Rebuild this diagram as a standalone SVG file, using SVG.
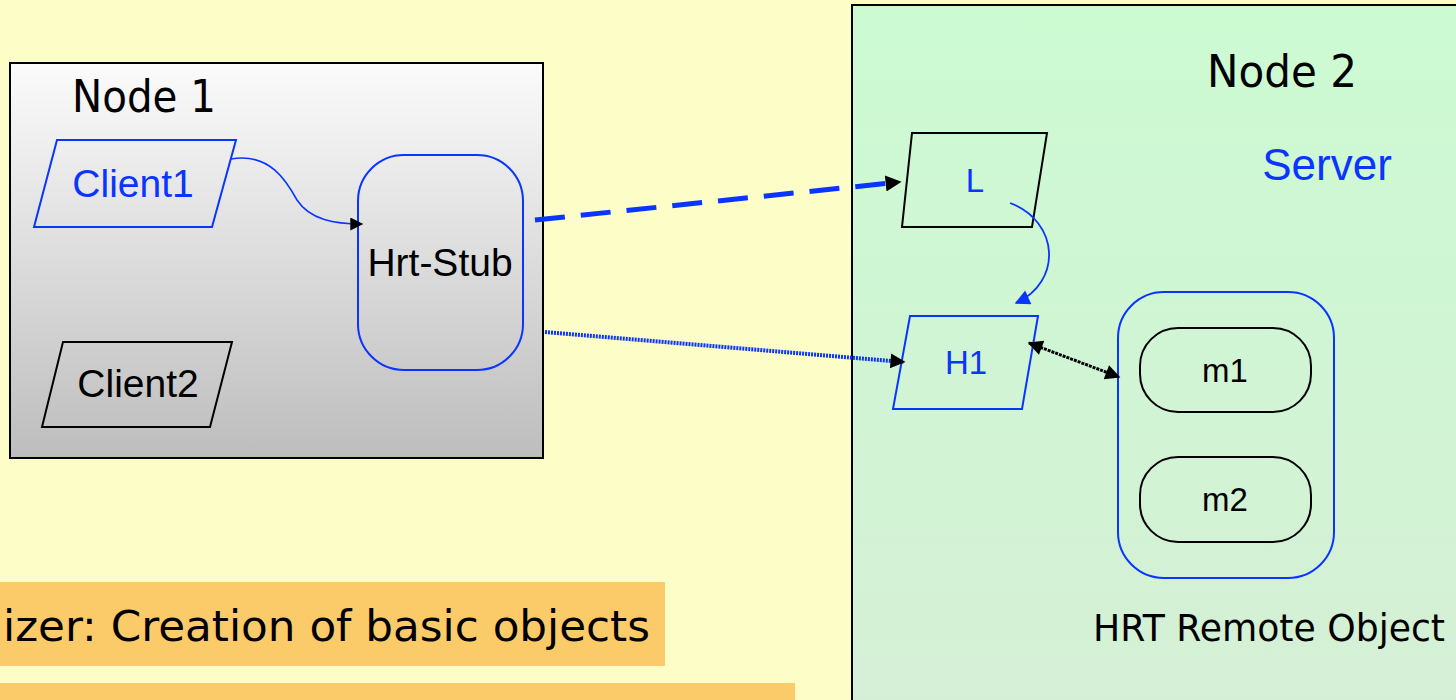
<svg xmlns="http://www.w3.org/2000/svg" width="1456" height="700" viewBox="0 0 1456 700">
<style>
.lbl{font-family:"Liberation Sans",Arial,sans-serif;font-size:39px;text-anchor:middle}
.sm{font-size:33px}
.blue{fill:#0a35ff}
.blk{fill:#000}
.hand{font-family:"DejaVu Sans",sans-serif;font-size:42px;fill:#000}
.bshape{fill:none;stroke:#0a35ff;stroke-width:2}
.kshape{fill:none;stroke:#000;stroke-width:2}
</style>
<defs>
<linearGradient id="g1" x1="0" y1="0" x2="0" y2="1"><stop offset="0" stop-color="#fbfbfb"/><stop offset="1" stop-color="#bdbdbd"/></linearGradient>
<linearGradient id="g2" x1="0" y1="0" x2="0" y2="1"><stop offset="0" stop-color="#ccfbd2"/><stop offset="1" stop-color="#d5efd6"/></linearGradient>
<marker id="ak" viewBox="0 0 10 10" refX="9" refY="5" markerWidth="18" markerHeight="13" markerUnits="userSpaceOnUse" orient="auto"><path d="M0,0 L10,5 L0,10 z" fill="#000"/></marker>
<marker id="akL" viewBox="0 0 10 10" refX="9" refY="5" markerWidth="22" markerHeight="16" markerUnits="userSpaceOnUse" orient="auto"><path d="M0,0 L10,5 L0,10 z" fill="#000"/></marker>
<marker id="akS" viewBox="0 0 10 10" refX="9" refY="5" markerWidth="22" markerHeight="15" markerUnits="userSpaceOnUse" orient="auto"><path d="M0,0 L10,5 L0,10 z" fill="#000"/></marker>
<marker id="akS2" viewBox="0 0 10 10" refX="9" refY="5" markerWidth="22" markerHeight="15" markerUnits="userSpaceOnUse" orient="auto-start-reverse"><path d="M0,0 L10,5 L0,10 z" fill="#000"/></marker>
<marker id="ab" viewBox="0 0 10 10" refX="9" refY="5" markerWidth="20" markerHeight="15" markerUnits="userSpaceOnUse" orient="auto"><path d="M0,0 L10,5 L0,10 z" fill="#0a35ff"/></marker>
</defs>
<rect x="0" y="0" width="1456" height="700" fill="#fdfdc8"/>

<g id="banner1">
<rect x="0" y="582" width="665" height="84" fill="#fbcb6a"/>
<text class="hand" x="3" y="641" textLength="647" lengthAdjust="spacingAndGlyphs">izer: Creation of basic objects</text>
</g>
<g id="banner2"><rect x="0" y="683" width="795" height="20" fill="#fbcb6a"/></g>

<g id="node1">
<rect x="10" y="63" width="533" height="395" fill="url(#g1)" stroke="#000" stroke-width="2"/>
<text class="hand" x="72" y="112" style="font-size:44px" textLength="144" lengthAdjust="spacingAndGlyphs">Node 1</text>
</g>
<g id="client1">
<polygon class="bshape" points="57,140 236,140 212,227 34,227"/>
<text class="lbl blue" x="133" y="197">Client1</text>
</g>
<g id="client2">
<polygon class="kshape" points="63,342 232,342 210,427 42,427"/>
<text class="lbl blk" x="138" y="397">Client2</text>
</g>
<g id="hrtstub">
<rect class="bshape" x="358" y="155" width="165" height="215" rx="46"/>
<text class="lbl blk" x="440" y="276">Hrt-Stub</text>
</g>

<g id="node2">
<rect x="852" y="5" width="620" height="710" fill="url(#g2)" stroke="#000" stroke-width="2"/>
<text class="hand" x="1207" y="87" style="font-size:44px" textLength="150" lengthAdjust="spacingAndGlyphs">Node 2</text>
<text class="lbl blue" x="1327" y="180" style="font-size:44px">Server</text>
</g>
<g id="L">
<polygon class="kshape" points="912,133 1047,133 1032,227 902,227"/>
<text class="lbl blue sm" x="975" y="192">L</text>
</g>
<g id="H1">
<polygon class="bshape" points="910,316 1038,316 1022,409 893,409"/>
<text class="lbl blue sm" x="966" y="374">H1</text>
</g>
<g id="remote">
<rect class="bshape" x="1118" y="292" width="216" height="286" rx="46"/>
<text x="1269" y="641" font-family="DejaVu Sans,sans-serif" font-size="37" text-anchor="middle" fill="#000" textLength="352" lengthAdjust="spacingAndGlyphs">HRT Remote Object</text>
</g>
<g id="m1">
<rect class="kshape" x="1140" y="328" width="171" height="84" rx="38"/>
<text class="lbl blk sm" x="1225" y="382">m1</text>
</g>
<g id="m2">
<rect class="kshape" x="1140" y="457" width="171" height="85" rx="38"/>
<text class="lbl blk sm" x="1225" y="511">m2</text>
</g>

<g id="connectors" fill="none">
<path d="M231,159 C270,152 287,182 297,200 C310,220 335,224 362,224" stroke="#0a35ff" stroke-width="1.6" marker-end="url(#ak)"/>
<path d="M535,220 L900,182" stroke="#0a35ff" stroke-width="5" stroke-dasharray="30,16" marker-end="url(#akL)"/>
<path d="M545,332 L904,362" stroke="#0a35ff" stroke-width="4" stroke-dasharray="2,1" marker-end="url(#akS)"/>
<path d="M1010,203 C1060,222 1062,282 1016,303" stroke="#0a35ff" stroke-width="1.8" marker-end="url(#ab)"/>
<path d="M1029,343 L1119,377" stroke="#000" stroke-width="3" stroke-dasharray="3,1" marker-start="url(#akS2)" marker-end="url(#akS)"/>
</g>
</svg>
